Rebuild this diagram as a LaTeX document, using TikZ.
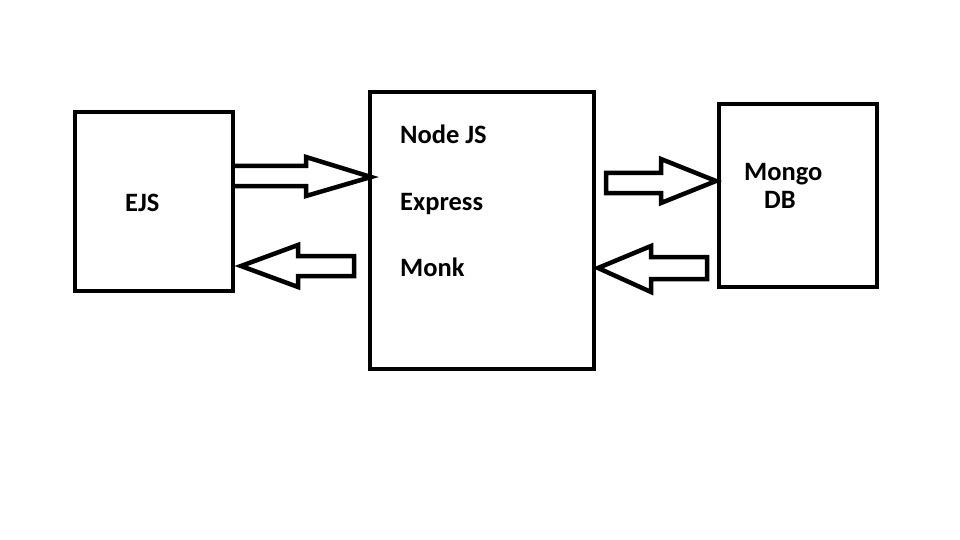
\documentclass[tikz,border=0pt]{standalone}
\usepackage{fontspec}
\setmainfont{Carlito}
\begin{document}
\begin{tikzpicture}[x=1pt,y=-1pt,
  box/.style={draw=black,line width=4pt,inner sep=0pt},
  lbl/.style={anchor=base west,inner sep=0pt,font=\bfseries\fontsize{26.5}{30}\selectfont},
  blockarrow/.style={draw=black,fill=white,line width=4.5pt,line join=miter}]
\useasboundingbox[fill=white] (0,0) rectangle (960,540);
% block arrows
\draw[blockarrow] (232,166) -- (306,166) -- (306,157) -- (371,177) -- (306,196) -- (306,186) -- (232,186);
\draw[blockarrow] (354,256) -- (298,256) -- (298,245) -- (241,266) -- (298,287) -- (298,276) -- (354,276) -- cycle;
\draw[blockarrow] (606,173) -- (661,173) -- (661,159) -- (716,181) -- (661,203) -- (661,193) -- (606,193) -- cycle;
\draw[blockarrow] (707,257) -- (651,257) -- (651,246) -- (598,268) -- (651,292) -- (651,279) -- (707,279) -- cycle;
% boxes
\node[box,minimum width=158pt,minimum height=179pt] (ejs) at (154,201.5) {};
\node[box,minimum width=224pt,minimum height=277pt] (srv) at (482,230.5) {};
\node[box,minimum width=158pt,minimum height=183pt] (db) at (798,195.5) {};
% labels
\node[lbl] (t1) at (125,211) {EJS};
\node[lbl] (t2) at (400,144) {Node JS};
\node[lbl] (t3) at (400,210) {Express};
\node[lbl] (t4) at (400,276) {Monk};
\node[lbl] (t5) at (744,180) {Mongo};
\node[lbl] (t6) at (764,208) {DB};
\end{tikzpicture}
\end{document}
